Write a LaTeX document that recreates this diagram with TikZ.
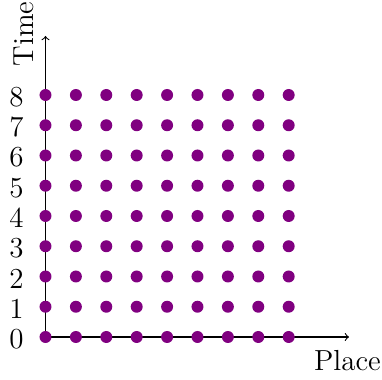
\documentclass[tikz,border=0pt]{standalone}
\definecolor{dotpurple}{HTML}{800080}
\begin{document}
\begin{tikzpicture}[x=0.5pt,y=-0.5pt,
  dot/.style={circle,fill=dotpurple,inner sep=0pt,minimum size=6pt},
  axis/.style={line width=0.55pt,->},
  lab/.style={font=\fontsize{14.5}{17}\selectfont,inner sep=0pt}]
\useasboundingbox (0,0) rectangle (382,380);
% axes
\coordinate (O) at (45.5,337);
\coordinate (xend) at (349,337);
\coordinate (yend) at (45.5,36);
\draw[axis] (O) -- (xend);
\draw[axis] (O) -- (yend);
% lattice of points
\foreach \i in {0,...,8}{
  \foreach \j in {0,...,8}{
    \node[dot] (d-\i-\j) at ({45.5+30.4*\i},{337-30.25*\j}) {};
  }
  \node[lab,anchor=east] (t\i) at (24,{339-30.25*\i}) {\i};
}
% axis labels
\node[lab,rotate=90] (time) at (24,34) {Time};
\node[lab] (place) at (347.5,361) {Place};
\end{tikzpicture}
\end{document}
